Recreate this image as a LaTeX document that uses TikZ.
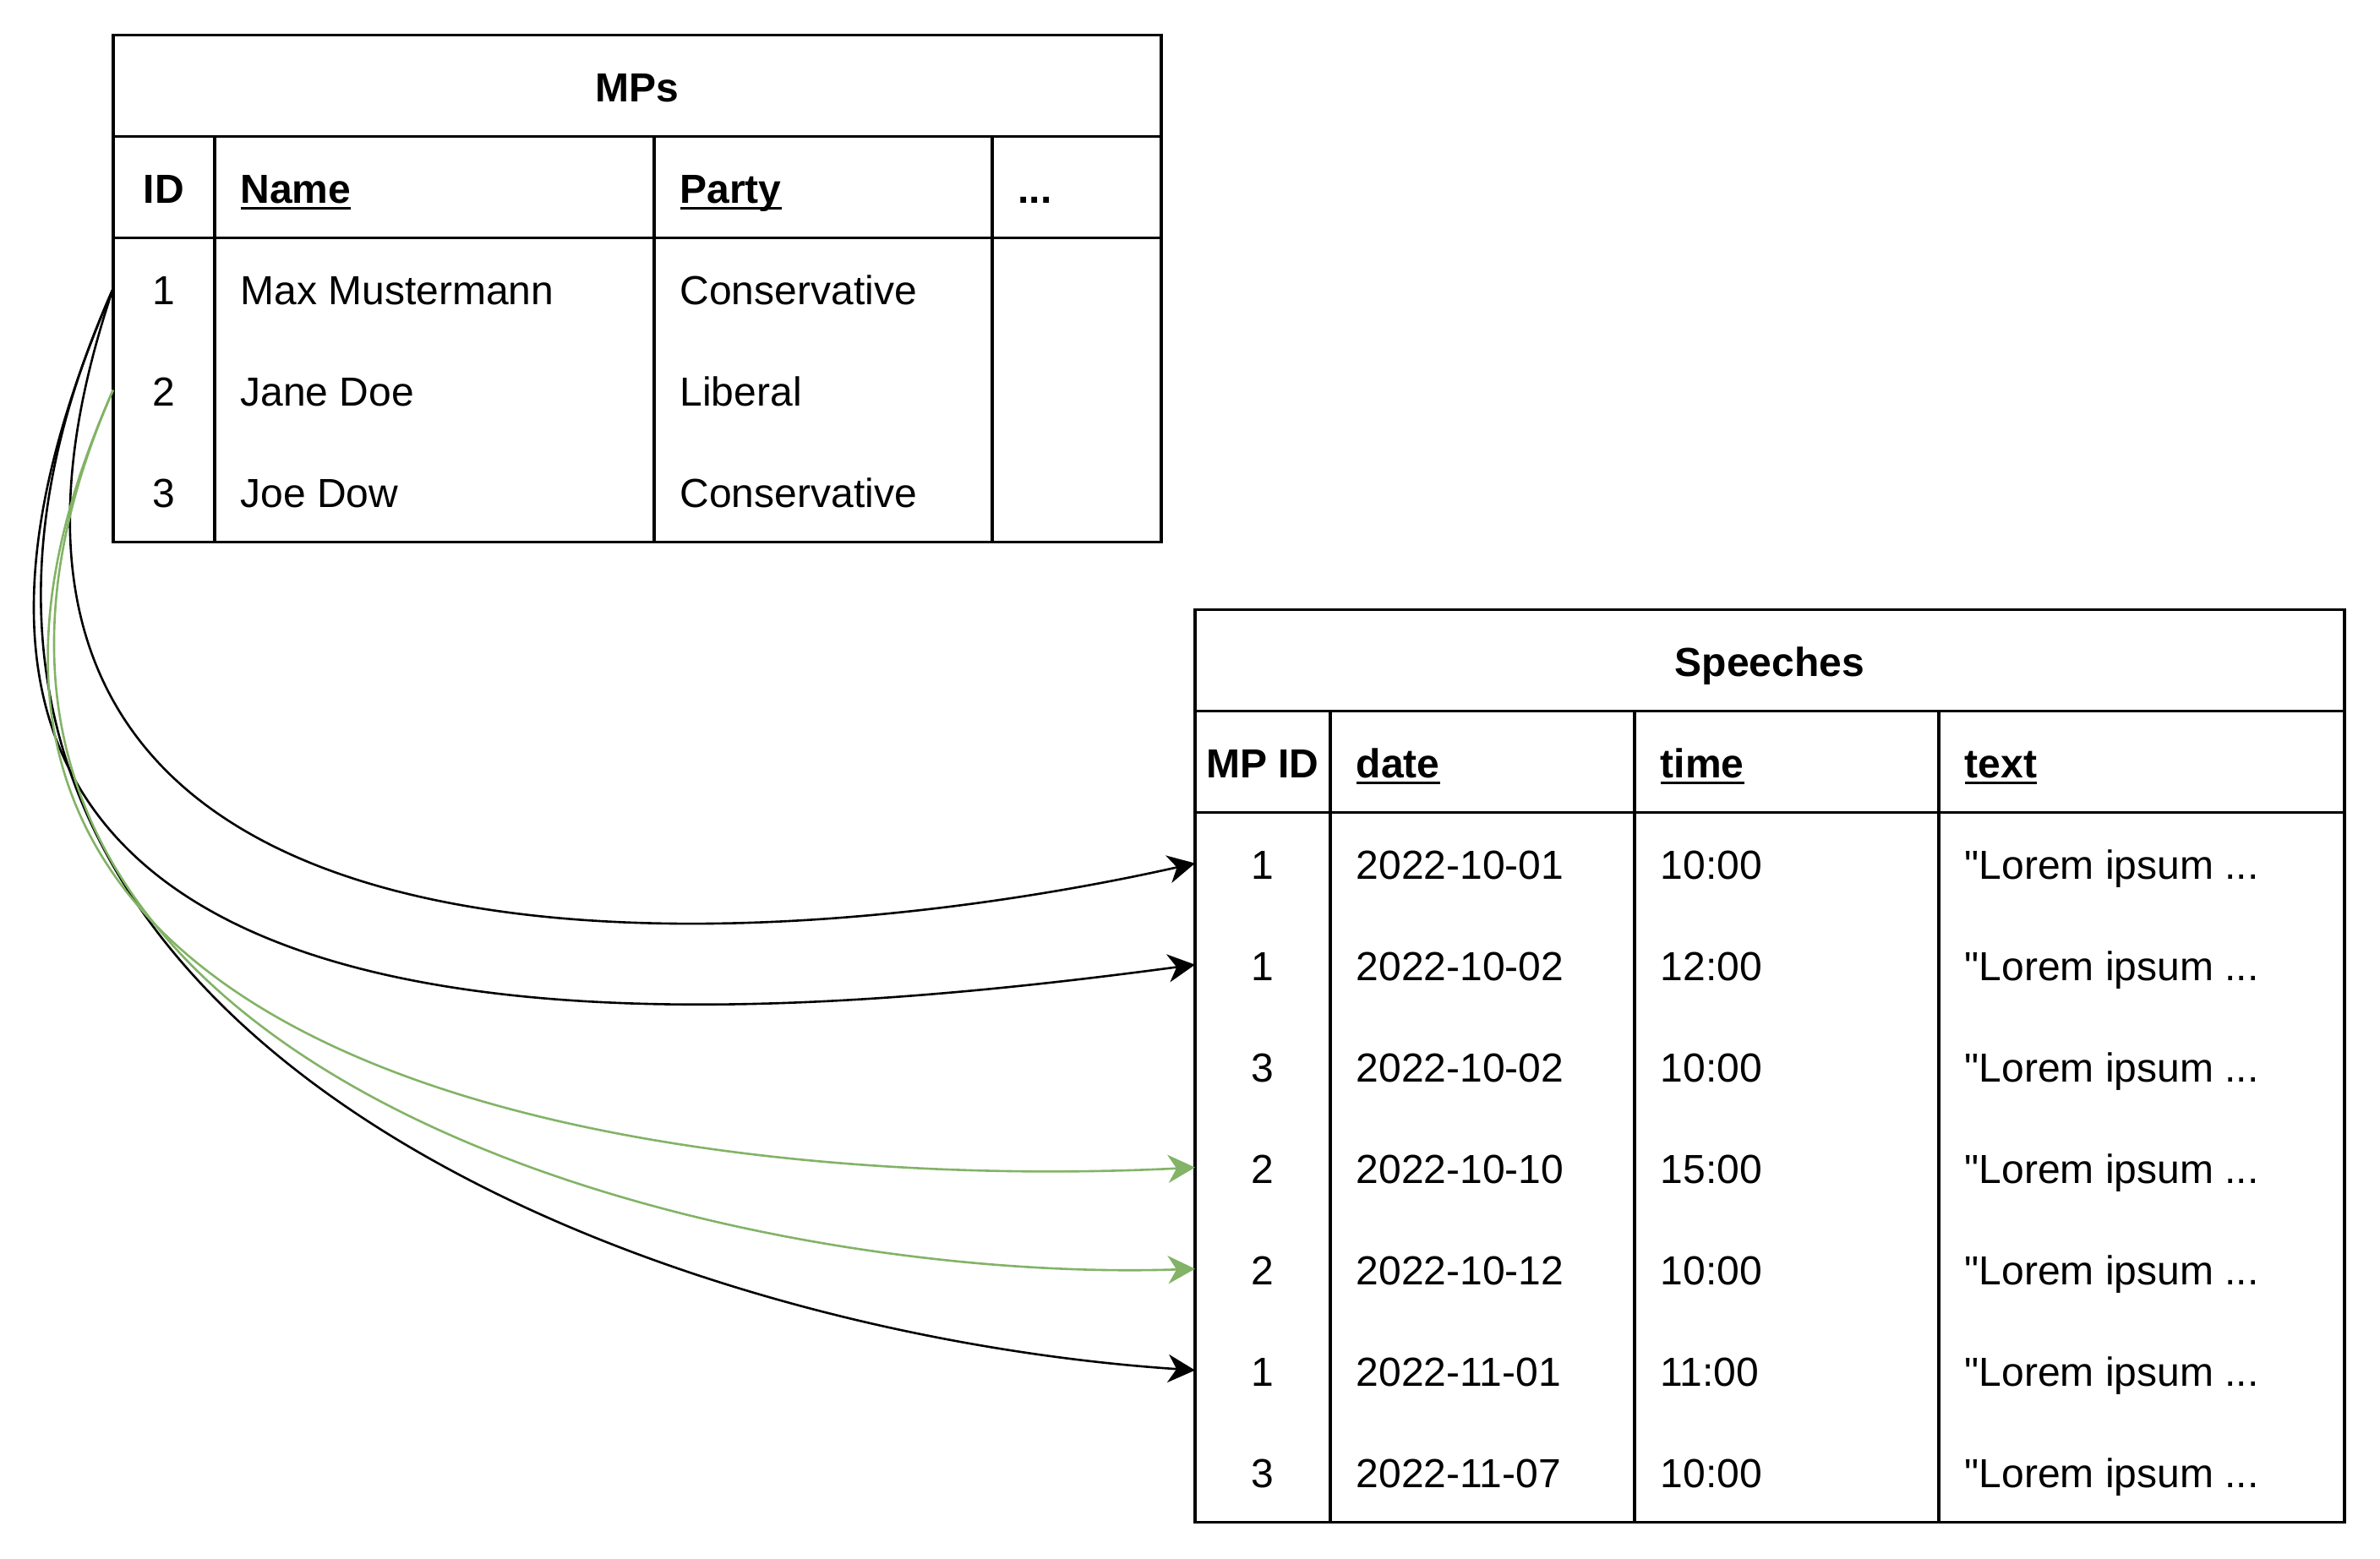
\documentclass[tikz,border=0pt]{standalone}
\usepackage{fontspec}
\setmainfont{Liberation Sans}
\usetikzlibrary{arrows.meta}

\definecolor{linkgreen}{HTML}{82B366}
\newcommand{\keyul}[1]{\setbox0\hbox{#1}\rlap{\rule[-1.9pt]{\wd0}{0.9pt}}\box0}

\begin{document}
\begin{tikzpicture}[x=1pt,y=-1pt,
  cell/.style={inner sep=0pt,text height=9.6pt,text depth=0pt,font=\fontsize{12}{14}\selectfont},
  head/.style={cell,font=\fontsize{12}{14}\selectfont\bfseries},
  rowbox/.style={inner sep=0pt,minimum height=30pt,anchor=west},
  tab/.style={line width=0.9pt},
  link/.style={line width=0.65pt,-{Stealth[length=8pt,width=8.3pt,inset=2.5pt]}},
  same/.style={link,draw=linkgreen,fill=none}]
\useasboundingbox (0,0) rectangle (704,461);

% MPs
\draw[tab] (33.45,10.4) rectangle (343.45,160.4);
\draw[tab] (33.45,40.4) -- (343.45,40.4) (33.45,70.4) -- (343.45,70.4);
\foreach \x in {63.45,193.45,293.45} \draw[tab] (\x,40.4) -- (\x,160.4);
\node[head] (mpstitle) at (188.45,25.4) {MPs};
\node[head] (mpid) at (48.45,55.4) {ID};
\node[head,anchor=west] (mpname) at (70.95,55.4) {\keyul{Name}};
\node[head,anchor=west] (mpparty) at (200.95,55.4) {\keyul{Party}};
\node[head,anchor=west] (mpmore) at (300.95,55.4) {...};
\foreach \i/\n/\p in {1/Max Mustermann/Conservative,2/Jane Doe/Liberal,3/Joe Dow/Conservative}{
  \node[rowbox,minimum width=310pt] (mp\i) at (33.45,55.4+30*\i) {};
  \node[cell] (mp\i-id) at (48.45,55.4+30*\i) {\i};
  \node[cell,anchor=west] (mp\i-name) at (70.95,55.4+30*\i) {\n};
  \node[cell,anchor=west] (mp\i-party) at (200.95,55.4+30*\i) {\p};
}

% Speeches
\draw[tab] (353.5,180.4) rectangle (693.5,450.4);
\draw[tab] (353.5,210.4) -- (693.5,210.4) (353.5,240.4) -- (693.5,240.4);
\foreach \x in {393.5,483.5,573.5} \draw[tab] (\x,210.4) -- (\x,450.4);
\node[head] (sptitle) at (523.5,195.4) {Speeches};
\node[head] (spmp) at (373.5,225.4) {MP ID};
\node[head,anchor=west] (spdate) at (401,225.4) {\keyul{date}};
\node[head,anchor=west] (sptime) at (491,225.4) {\keyul{time}};
\node[head,anchor=west] (sptext) at (581,225.4) {\keyul{text}};
\foreach \i/\m/\d/\t in {1/1/2022-10-01/10:00,2/1/2022-10-02/12:00,3/3/2022-10-02/10:00,
  4/2/2022-10-10/15:00,5/2/2022-10-12/10:00,6/1/2022-11-01/11:00,7/3/2022-11-07/10:00}{
  \node[rowbox,minimum width=340pt] (sp\i) at (353.5,225.4+30*\i) {};
  \node[cell] (sp\i-mp) at (373.5,225.4+30*\i) {\m};
  \node[cell,anchor=west] (sp\i-date) at (401,225.4+30*\i) {\d};
  \node[cell,anchor=west] (sp\i-time) at (491,225.4+30*\i) {\t};
  \node[cell,anchor=west] (sp\i-text) at (581,225.4+30*\i) {\textquotedbl Lorem ipsum ...};
}

% links
\draw[link] (mp1.west) .. controls (-40.2,303.8) and (223.3,284.6) .. (sp1.west);
\draw[link] (mp1.west) .. controls (-72.4,329) and (206.2,305) .. (sp2.west);
\draw[link] (mp1.west) .. controls (-62.4,299.7) and (186.1,394.3) .. (sp6.west);
\draw[same] (mp2.west) .. controls (-62.4,330.9) and (223.3,352) .. (sp4.west);
\draw[same] (mp2.west) .. controls (-54.3,315.8) and (210.2,380.2) .. (sp5.west);
\end{tikzpicture}
\end{document}
